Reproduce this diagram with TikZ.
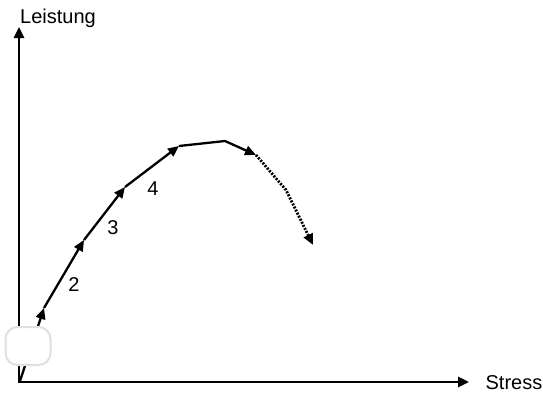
\documentclass[tikz,border=0pt]{standalone}
\usepackage{fontspec}
\setmainfont{Liberation Sans}
\usetikzlibrary{arrows.meta}
\begin{document}
\begin{tikzpicture}[x=1pt,y=-1pt,
  axis/.style={line width=2.6pt,-{Triangle[length=11pt,width=10pt]}},
  seg/.style={line width=2.3pt,-{Triangle[length=11pt,width=9.5pt]}},
  dotseg/.style={line width=2.8pt,dash pattern=on 2pt off 1.4pt,-{Triangle[length=11pt,width=9.5pt]}},
  lbl/.style={font=\fontsize{20}{24}\selectfont,inner sep=0pt}]
\useasboundingbox (0,0) rectangle (543,394);
\coordinate (o) at (19,382);
\coordinate (ytip) at (19,27);
\coordinate (xtip) at (469,382);
\draw[axis] (o|-0,383) -- (ytip);
\draw[axis] ([xshift=-1.3pt]o) -- (xtip);
\node[lbl,anchor=south west] (ly) at (20,28) {Leistung};
\node[lbl,anchor=east] (lx) at (542.5,383) {Stress};
\coordinate (p0) at (20,381);
\coordinate (p1) at (44,308);
\coordinate (p2) at (84,240);
\coordinate (p3) at (125,187);
\coordinate (p4) at (179,146);
\coordinate (p5) at (225,141);
\coordinate (p6) at (256,155);
\coordinate (p7) at (286,190);
\coordinate (p8) at (313,245);
\draw[seg] (p0) -- (p1);
\draw[seg] (p1) -- (p2);
\draw[seg] (p2) -- (p3);
\draw[seg] (p3) -- (p4);
\draw[seg] (p4) -- (p5) -- (p6);
\draw[dotseg] (p6) -- (p7) -- (p8);
\node[lbl] (n2) at (74,285) {2};
\node[lbl] (n3) at (113,228) {3};
\node[lbl] (n4) at (153,189) {4};
\node[draw=black!12,line width=2pt,fill=white,rounded corners=12pt,minimum width=45pt,minimum height=38pt] (blob) at (28,346) {};
\end{tikzpicture}
\end{document}
